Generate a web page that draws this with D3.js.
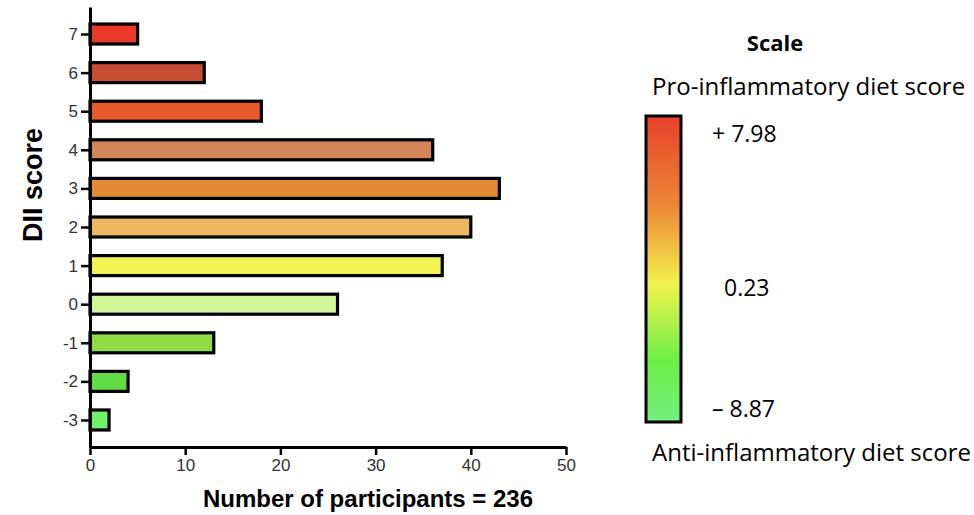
<!DOCTYPE html>
<html>
<head>
<meta charset="utf-8">
<script src="https://cdn.jsdelivr.net/npm/d3@7"></script>
<style>
  body { margin: 0; background: #fff; }
</style>
</head>
<body>
<script>
//////////////// Datas ////////////////////
var scores = [7, 6, 5, 4, 3, 2, 1, 0, -1, -2, -3];
var counts = [5, 12, 18, 36, 43, 40, 37, 26, 13, 4, 2];
var barColors = ["#e8392a", "#c84b33", "#e55b2c", "#d4845a", "#e38b32", "#ecb75e",
                 "#f2f252", "#d2f59a", "#8fdc46", "#62dc46", "#6ff26a"];
var xTicks = [0, 10, 20, 30, 40, 50];
var scaleLabels = ["+ 7.98", "0.23", "\u2013 8.87"];
var gradStops = [
  {o: 0, c: "#e8402a"}, {o: 0.3, c: "#ed8a36"}, {o: 0.55, c: "#f2f24e"},
  {o: 0.8, c: "#6cf046"}, {o: 1, c: "#72ee80"}
];

//////////////// Variables ////////////////////
var W = 974, H = 515;
var x0 = 90, x1 = 566;
var af = "'Liberation Sans', Arial, sans-serif";

var svg = d3.select("body").append("svg")
  .attr("width", W).attr("height", H);

//////////////// Scaling ///////////////
var xScale = d3.scaleLinear().domain([0, 50]).range([x0, x1]);
var yScale = d3.scaleLinear().domain([-3.7, 7.7]).range([447, 7]);
var barH = 20;

//////////////// Bars ///////////////
svg.selectAll("rect.bar")
  .data(scores)
  .enter().append("rect")
  .attr("class", "bar")
  .attr("x", xScale(0))
  .attr("y", function(d) { return yScale(d) - barH / 2; })
  .attr("width", function(d, i) { return xScale(counts[i]) - xScale(0); })
  .attr("height", barH)
  .attr("fill", function(d, i) { return barColors[i]; })
  .attr("stroke", "#000")
  .attr("stroke-width", 3.2);

//////////////// Axis ///////////////
var xAxis = svg.append("g")
  .attr("transform", "translate(0,447)")
  .call(d3.axisBottom(xScale).tickValues(xTicks).tickSize(8).tickSizeOuter(0).tickPadding(4));
var yAxis = svg.append("g")
  .attr("transform", "translate(" + x0 + ",0)")
  .call(d3.axisLeft(yScale).tickValues(scores).tickSize(9).tickSizeOuter(0).tickPadding(3)
    .tickFormat(function(d) { return String(d); }));

svg.selectAll(".domain").attr("stroke", "#000").attr("stroke-width", 3);
svg.selectAll(".tick line").attr("stroke", "#000").attr("stroke-width", 2.5);
svg.selectAll(".tick text")
  .attr("fill", "#333")
  .attr("font-size", "17px")
  .attr("font-family", af);

svg.append("text")
  .attr("transform", "translate(42,185) rotate(-90)")
  .attr("text-anchor", "middle")
  .style("font-family", af)
  .style("font-weight", "bold")
  .style("font-size", "27px")
  .text("DII score");

svg.append("text")
  .attr("x", 368).attr("y", 507)
  .attr("text-anchor", "middle")
  .style("font-family", af)
  .style("font-weight", "bold")
  .style("font-size", "24px")
  .text("Number of participants = 236");

//////////////// Legend ///////////////
var grad = svg.append("defs").append("linearGradient")
  .attr("id", "dii").attr("x1", 0).attr("y1", 0).attr("x2", 0).attr("y2", 1);
grad.selectAll("stop").data(gradStops).enter().append("stop")
  .attr("offset", function(d) { return d.o; })
  .attr("stop-color", function(d) { return d.c; });

var lf = "'Open Sans', Lato, sans-serif";
svg.append("rect")
  .attr("x", 646).attr("y", 116).attr("width", 35).attr("height", 306)
  .attr("fill", "url(#dii)").attr("stroke", "#000").attr("stroke-width", 3);

svg.append("text").attr("x", 775).attr("y", 51).attr("text-anchor", "middle")
  .style("font-family", lf).style("font-weight", "bold").style("font-size", "22px")
  .text("Scale");
svg.append("text").attr("x", 652).attr("y", 95)
  .style("font-family", lf).style("font-size", "24px").text("Pro-inflammatory diet score");
svg.append("text").attr("x", 652).attr("y", 461)
  .style("font-family", lf).style("font-size", "24px").text("Anti-inflammatory diet score");

var labelPos = [{x: 712, y: 142}, {x: 724, y: 296}, {x: 712, y: 417}];
svg.selectAll("text.sl").data(scaleLabels).enter().append("text")
  .attr("class", "sl")
  .attr("x", function(d, i) { return labelPos[i].x; })
  .attr("y", function(d, i) { return labelPos[i].y; })
  .style("font-family", lf).style("font-size", "23px")
  .text(function(d) { return d; });
</script>
</body>
</html>
